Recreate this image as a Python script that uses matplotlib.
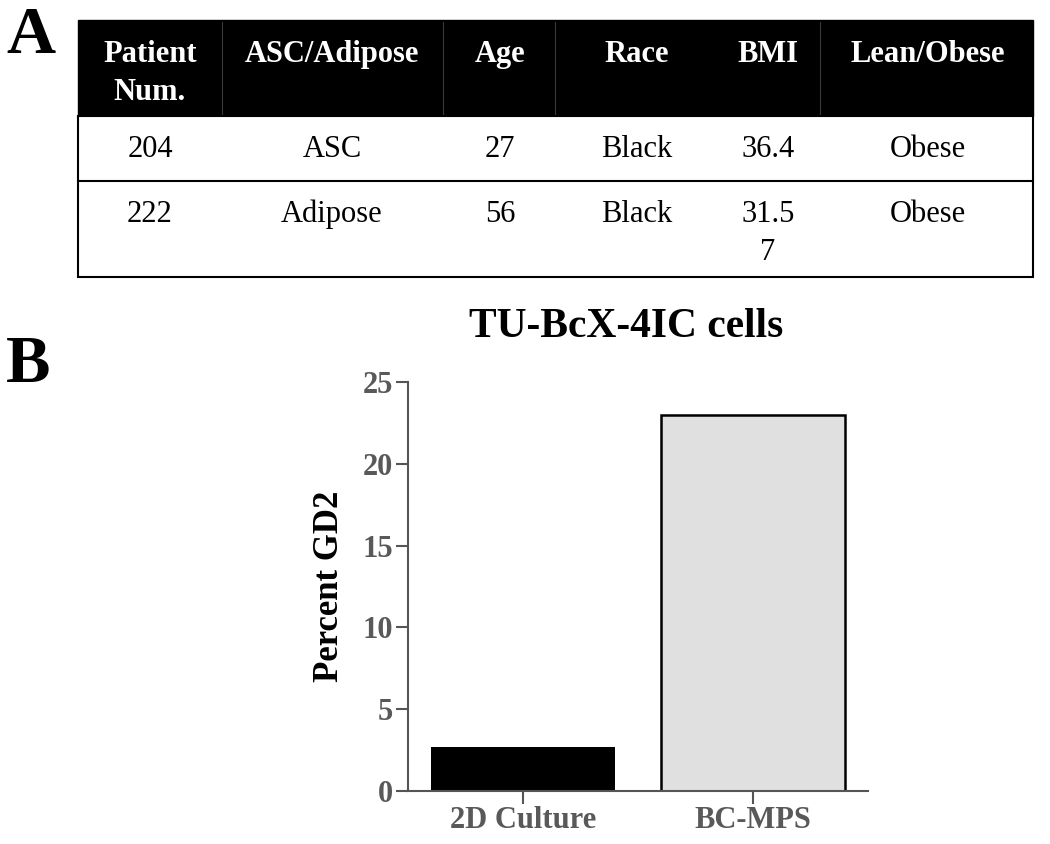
import matplotlib.pyplot as plt
from matplotlib.patches import Rectangle

plt.rcParams['font.family'] = ['Liberation Serif', 'DejaVu Serif']

# panel A table
header = ["Patient\nNum.", "ASC/Adipose", "Age", "Race", "BMI", "Lean/Obese"]
row_204 = ["204", "ASC", "27", "Black", "36.4", "Obese"]
row_222 = ["222", "Adipose", "56", "Black", "31.5\n7", "Obese"]

# panel B bars
conditions = ["2D Culture", "BC-MPS"]
percent_gd2 = [2.7, 23.0]
bar_colors = ["#000000", "#e0e0e0"]
y_ticks = [0, 5, 10, 15, 20, 25]

W, H = 1050, 844
fig = plt.figure(figsize=(W / 100, H / 100), dpi=100)

# ---- table drawn in pixel coords on an overlay axes
tab = fig.add_axes([0, 0, 1, 1])
tab.set_xlim(0, W)
tab.set_ylim(H, 0)
tab.axis("off")

left, right = 78, 1033
top, head_bot, row_div, bot = 20, 116, 181, 277
col_div = [222, 443, 555, 820]
col_cx = [150, 332, 500, 637, 768, 928]
line_dy = 38

tab.add_patch(Rectangle((left, top), right - left, head_bot - top,
                        facecolor="black", edgecolor="black", lw=1))
for xd in col_div:
    tab.plot([xd, xd], [top + 2, head_bot - 2], color="#3a3a3a", lw=0.8)
tab.add_patch(Rectangle((left, head_bot), right - left, bot - head_bot,
                        facecolor="white", edgecolor="black", lw=1.5))
tab.plot([left, right], [row_div, row_div], color="black", lw=1.5)


def put_cells(labels, base_y, color, weight):
    for cx, lab in zip(col_cx, labels):
        for j, line in enumerate(lab.split("\n")):
            tab.text(cx, base_y + j * line_dy, line, ha="center", va="baseline",
                     fontsize=22, color=color, fontweight=weight)


put_cells(header, 62, "white", "bold")
put_cells(row_204, 157, "black", "normal")
put_cells(row_222, 222, "black", "normal")

tab.text(6, 53, "A", fontsize=49, fontweight="bold", va="baseline")
tab.text(6, 382, "B", fontsize=48, fontweight="bold", va="baseline")
tab.text(626, 337, "TU-BcX-4IC cells", fontsize=22 * 1.36, fontweight="bold",
         ha="center", va="baseline")

# ---- bar chart
ax_l, ax_r, ax_b, ax_t = 408, 868, 791, 382
ax = fig.add_axes([ax_l / W, 1 - ax_b / H, (ax_r - ax_l) / W, (ax_b - ax_t) / H])
xs = range(len(conditions))
ax.bar(xs, percent_gd2, width=0.8, color=bar_colors,
       edgecolor=["black", "black"], linewidth=[0, 1.8])
ax.set_xlim(-0.5, 1.5)
ax.set_ylim(0, 25)
ax.set_yticks(y_ticks)
ax.set_xticks(list(xs))
ax.set_xticklabels(conditions)

axis_gray = "#555555"
for s in ["top", "right"]:
    ax.spines[s].set_visible(False)
for s in ["left", "bottom"]:
    ax.spines[s].set_color(axis_gray)
    ax.spines[s].set_linewidth(1.5)
ax.tick_params(axis="both", colors=axis_gray, length=9, width=1.5, pad=2,
               labelsize=22)
for lab in ax.get_xticklabels() + ax.get_yticklabels():
    lab.set_fontweight("bold")
    lab.set_color("#595959")

ax.set_ylabel("Percent GD2", fontsize=25, fontweight="bold", color="black")
ax.yaxis.set_label_coords(-0.135, 0.5)

fig.savefig("out.png", dpi=100)
